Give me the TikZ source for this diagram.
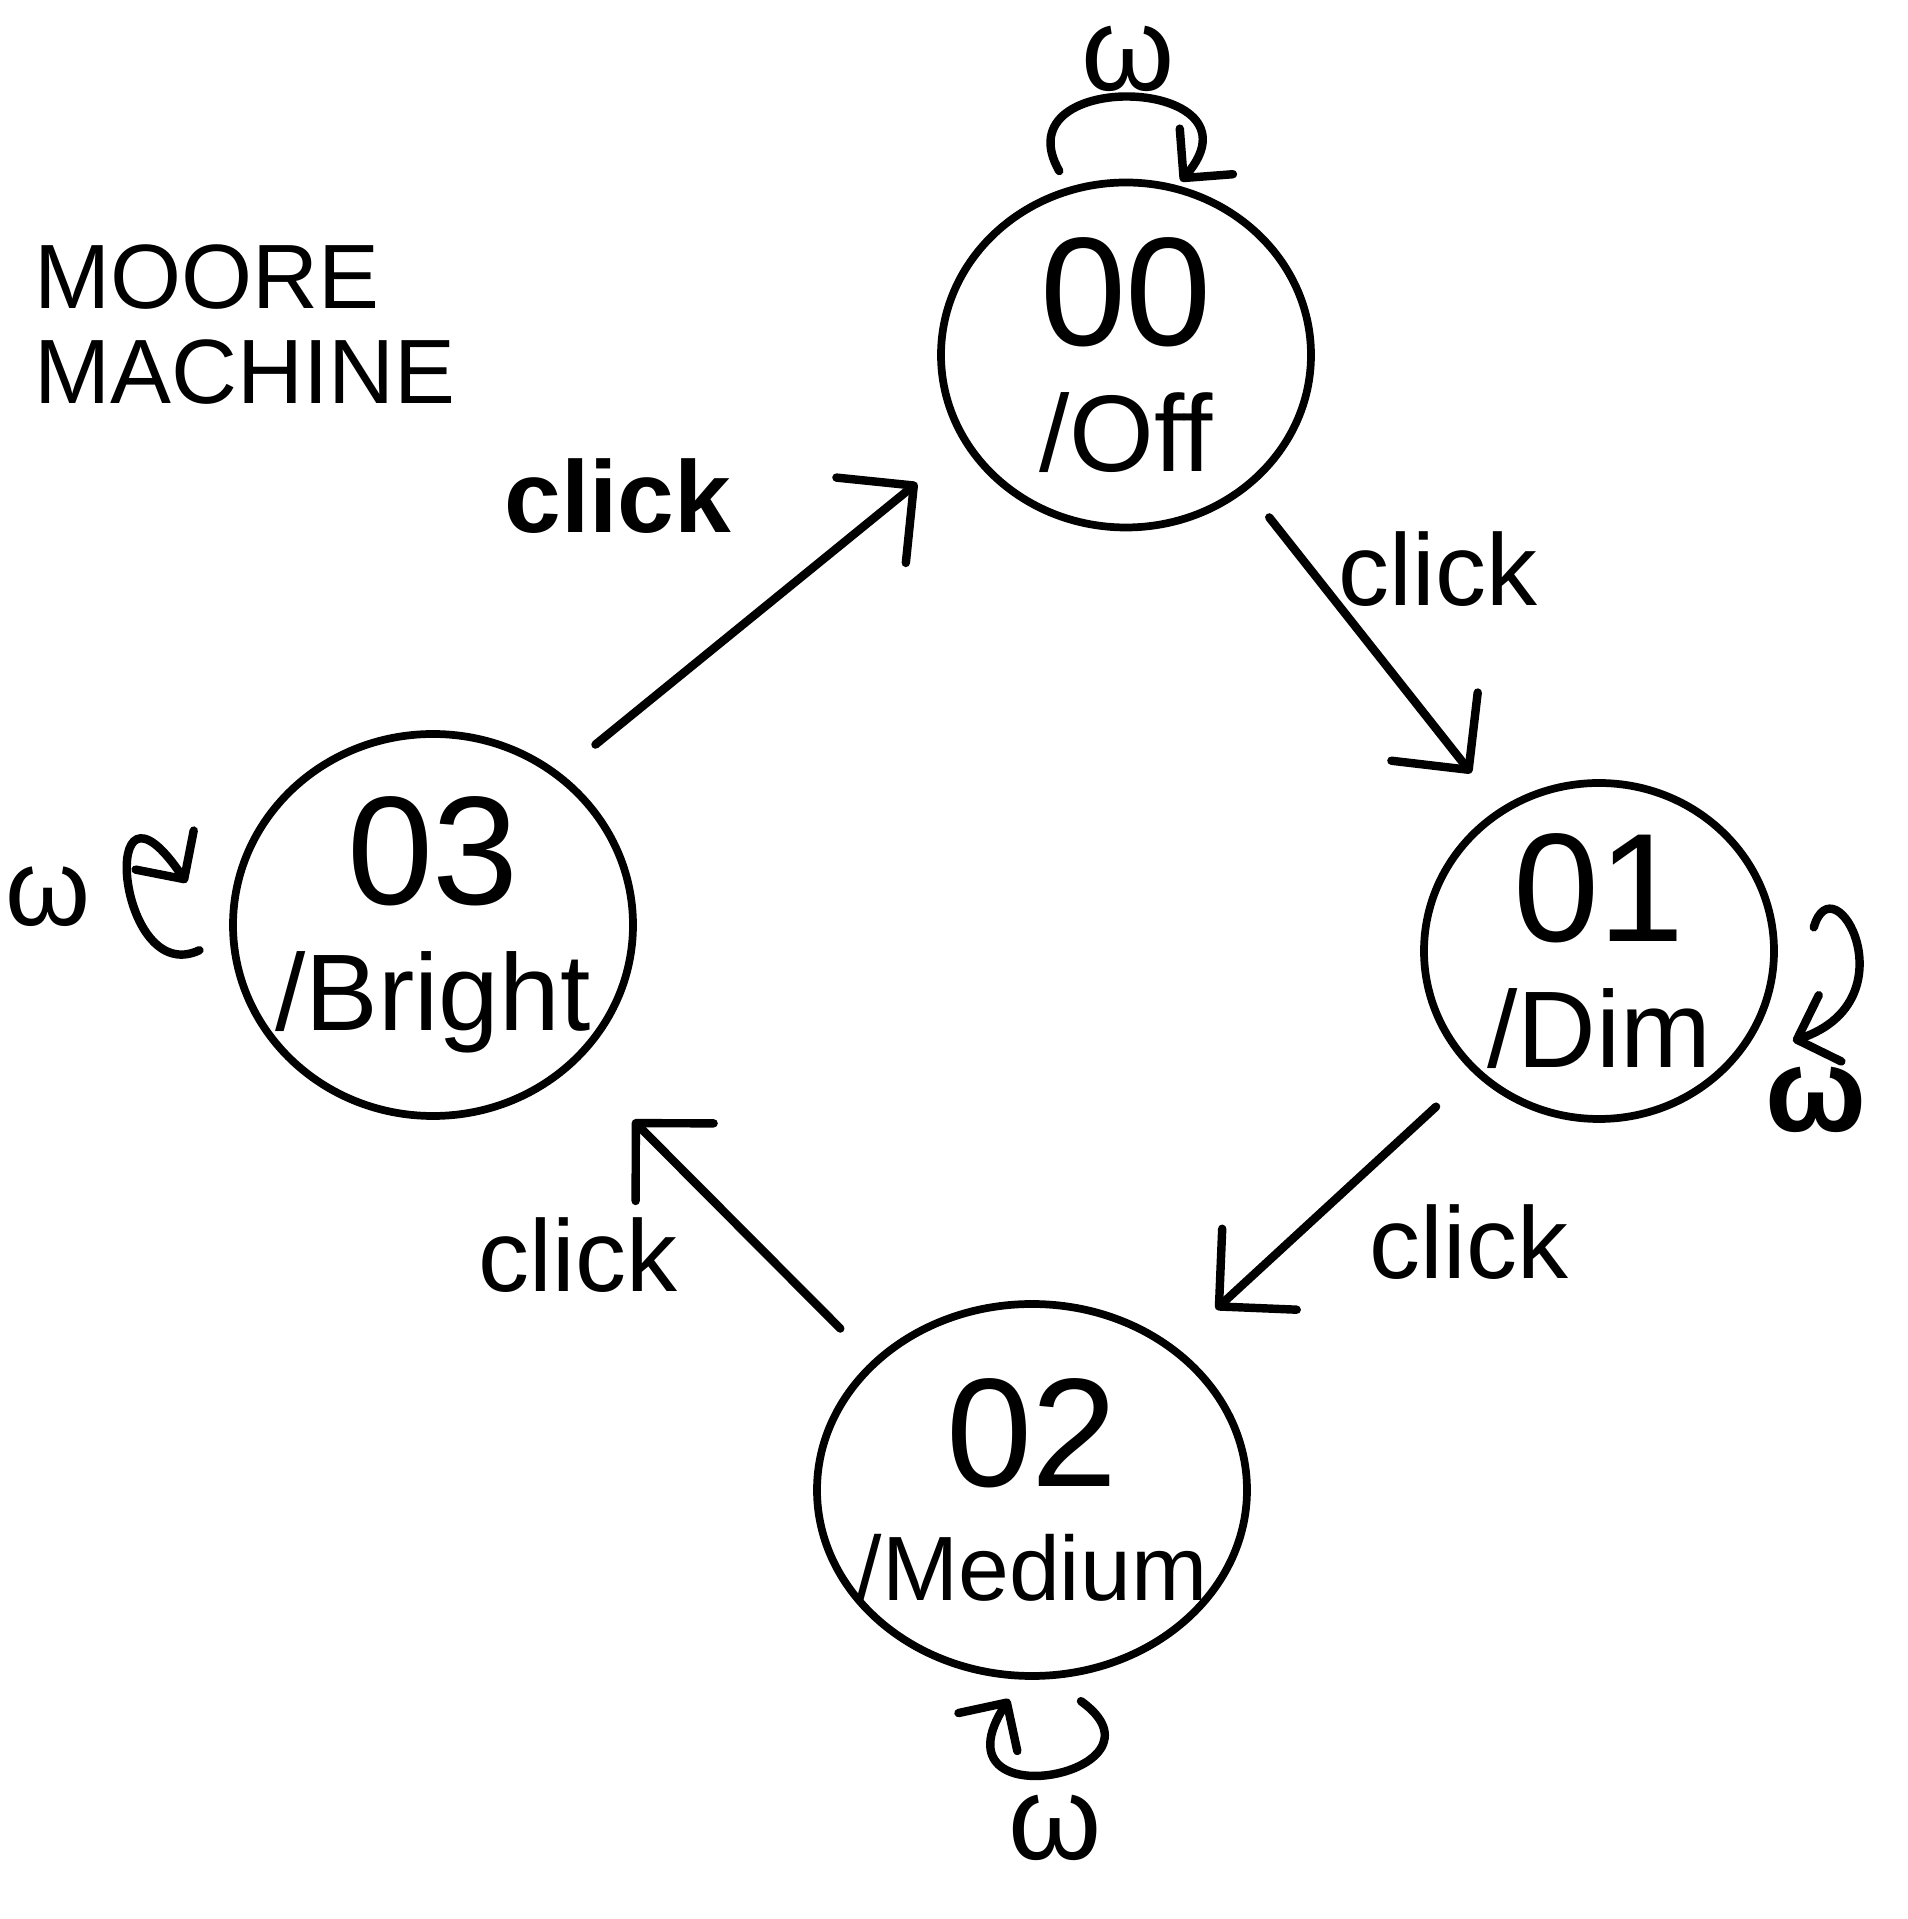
\documentclass[tikz,border=0pt]{standalone}
\usepackage{fontspec}
\setmainfont{Liberation Sans}
\usetikzlibrary{shapes.geometric, arrows.meta, positioning}
\renewcommand{\small}{\fontsize{29}{32}\selectfont}
\renewcommand{\large}{\fontsize{26}{27}\selectfont}
\renewcommand{\Large}{\fontsize{34}{36}\selectfont}
\renewcommand{\LARGE}{\fontsize{31}{34}\selectfont}
\renewcommand{\Huge}{\fontsize{44}{48}\selectfont}

\begin{document}
\begin{tikzpicture}[
    statenode/.style={draw, ellipse, line width=2.2pt, inner sep=0pt, align=center},
    flow/.style={-{Straight Barb[length=5.5mm, width=11mm, round]}, line width=2.4pt,
                 line cap=round, shorten <=4.5mm, shorten >=4.5mm},
    selfloop/.style={-{Straight Barb[length=3.5mm, width=7mm, round]}, line width=2.4pt,
                     line cap=round},
    lbl/.style={font=\small, inner sep=0pt},
    omega/.style={font=\Large, inner sep=0pt},
  ]
  \useasboundingbox (0,0) rectangle (19.07,19.19);

  \node[font=\large, align=left, inner sep=0pt] (title) at (2.45,15.94) {MOORE\\MACHINE};

  % states
  \node[statenode, minimum width=3.7cm, minimum height=3.45cm] (off) at (11.26,15.64)
    {\makebox[0pt]{\Huge 00}\\[12pt]\makebox[0pt]{\LARGE /Off}};
  \node[statenode, minimum width=3.5cm, minimum height=3.36cm] (dim) at (15.99,9.68)
    {\makebox[0pt]{\Huge 01}\\[12pt]\makebox[0pt]{\LARGE /Dim}};
  \node[statenode, minimum width=4.3cm, minimum height=3.72cm] (medium) at (10.32,4.29)
    {\makebox[0pt]{\Huge 02}\\[12pt]\makebox[0pt]{\large /Medium}};
  \node[statenode, minimum width=4.0cm, minimum height=3.82cm] (bright) at (4.33,9.94)
    {\makebox[0pt]{\Huge 03}\\[12pt]\makebox[0pt]{\LARGE /Bright}};

  % clicks
  \draw[flow, shorten >=6mm] (bright.50) -- (off.209);
  \draw[flow, shorten <=3.5mm] (off.-48) -- (dim.125);
  \draw[flow, shorten <=5mm, shorten >=5.5mm] (dim.224) -- (medium.45);
  \draw[flow, shorten >=8mm] (medium.141) -- (bright.316);

  \node[lbl, font=\small\bfseries] (c1) at (6.18,14.23) {click};
  \node[lbl] (c2) at (14.38,13.50) {click};
  \node[lbl] (c3) at (14.69,6.77) {click};
  \node[lbl] (c4) at (5.78,6.64) {click};

  % self loops
  \draw[selfloop] ([shift={(-0.06,0.17)}]off.110) .. controls +(-0.6,1.05) and +(0.9,1.05)
    .. ([shift={(0,0.05)}]off.72);
  \draw[selfloop] ([shift={(0.37,0.05)}]dim.6) .. controls +(0.2,0.69) and +(1.2,0.41)
    .. ([shift={(0.33,-0.15)}]dim.-25);
  \draw[selfloop] ([shift={(0.06,-0.25)}]medium.283) .. controls +(1.0,-0.72) and +(-0.8,-1.24)
    .. ([shift={(-0.03,-0.2)}]medium.264);
  \draw[selfloop] ([shift={(-0.31,-0.04)}]bright.186) .. controls +(-0.83,-0.39) and +(-0.9,1.34)
    .. ([shift={(-0.46,0.07)}]bright.170);

  \node[omega] (w00) at (11.28,18.6) {ω};
  \node[omega, font=\Large\bfseries] (w01) at (18.16,8.19) {ω};
  \node[omega] (w02) at (10.55,0.91) {ω};
  \node[omega, font=\LARGE] (w03) at (0.48,10.22) {ω};
\end{tikzpicture}
\end{document}
